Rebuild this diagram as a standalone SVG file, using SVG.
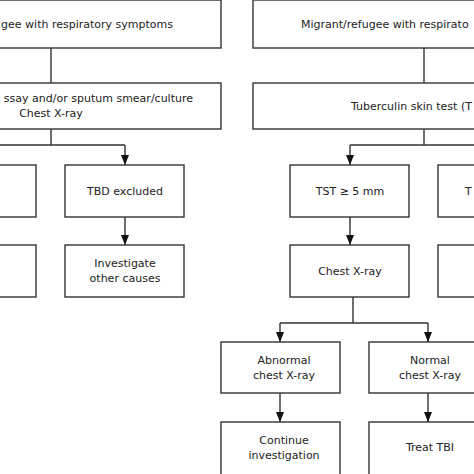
<svg xmlns="http://www.w3.org/2000/svg" width="474" height="474" viewBox="0 0 474 474">
<style>
.box{fill:#fff;stroke:#333;stroke-width:1.4}
.t{font-family:"DejaVu Sans",Verdana,sans-serif;font-size:11px;fill:#222;text-anchor:middle}
.s{text-anchor:start}
.e{text-anchor:end}
.c{fill:none;stroke:#333;stroke-width:1.4}
.a{marker-end:url(#arr)}
</style>
<defs>
<marker id="arr" viewBox="0 0 10 8" refX="10" refY="4" markerWidth="10" markerHeight="8" markerUnits="userSpaceOnUse" orient="auto">
<path d="M0,0 L10,4 L0,8 z" fill="#111"/>
</marker>
</defs>
<rect width="474" height="474" fill="#fff"/>
<g id="connectors">
<path class="c" d="M51,48 V83"/>
<path class="c" d="M51,129 V145 M-24,145 H125"/>
<path class="c a" d="M125,145 V165"/>
<path class="c a" d="M125,217 V245"/>
<path class="c" d="M424,48 V83"/>
<path class="c" d="M424,129 V145 M350,145 H498"/>
<path class="c a" d="M350,145 V165"/>
<path class="c a" d="M350,217 V245"/>
<path class="c" d="M353,297 V323 M280,323 H428"/>
<path class="c a" d="M280,323 V342"/>
<path class="c a" d="M428,323 V342"/>
<path class="c a" d="M280,393 V422"/>
<path class="c a" d="M428,393 V422"/>
</g>
<g id="n-left-top">
<rect class="box" x="-119" y="0" width="340" height="48"/>
<text class="t e" x="173" y="28">gee with respiratory symptoms</text>
</g>
<g id="n-left-test">
<rect class="box" x="-119" y="83" width="340" height="46"/>
<text class="t e" x="193" y="102">ssay and/or sputum smear/culture</text>
<text class="t" x="51" y="117">Chest X-ray</text>
</g>
<g id="n-left-col1">
<rect class="box" x="-83" y="165" width="119" height="52"/>
</g>
<g id="n-left-col2">
<rect class="box" x="-83" y="245" width="119" height="52"/>
</g>
<g id="n-tbd-excluded">
<rect class="box" x="65" y="165" width="119" height="52"/>
<text class="t" x="125" y="195">TBD excluded</text>
</g>
<g id="n-investigate">
<rect class="box" x="65" y="245" width="119" height="52"/>
<text class="t" x="125" y="267">Investigate</text>
<text class="t" x="125" y="282">other causes</text>
</g>
<g id="n-right-top">
<rect class="box" x="253" y="0" width="342" height="48"/>
<text class="t s" x="301" y="28">Migrant/refugee with respirato</text>
</g>
<g id="n-tst">
<rect class="box" x="253" y="83" width="342" height="46"/>
<text class="t s" x="351" y="110">Tuberculin skin test (T</text>
</g>
<g id="n-tst-pos">
<rect class="box" x="290" y="165" width="119" height="52"/>
<text class="t" x="350" y="195">TST ≥ 5 mm</text>
</g>
<g id="n-tst-neg">
<rect class="box" x="438" y="165" width="119" height="52"/>
<text class="t s" x="465" y="195">T</text>
</g>
<g id="n-chest-xray">
<rect class="box" x="290" y="245" width="119" height="52"/>
<text class="t" x="350" y="275">Chest X-ray</text>
</g>
<g id="n-right-col2">
<rect class="box" x="438" y="245" width="119" height="52"/>
</g>
<g id="n-abnormal">
<rect class="box" x="221" y="342" width="119" height="51"/>
<text class="t" x="284" y="364">Abnormal</text>
<text class="t" x="284" y="379">chest X-ray</text>
</g>
<g id="n-normal">
<rect class="box" x="369" y="342" width="123" height="51"/>
<text class="t" x="430" y="364">Normal</text>
<text class="t" x="430" y="379">chest X-ray</text>
</g>
<g id="n-continue">
<rect class="box" x="221" y="422" width="119" height="60"/>
<text class="t" x="284" y="444">Continue</text>
<text class="t" x="284" y="459">investigation</text>
</g>
<g id="n-treat">
<rect class="box" x="369" y="422" width="123" height="60"/>
<text class="t" x="430" y="451">Treat TBI</text>
</g>
</svg>
